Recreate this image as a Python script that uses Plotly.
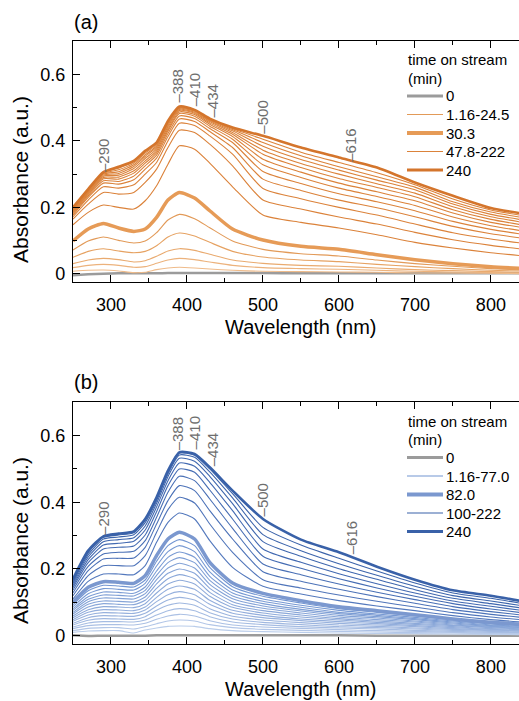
import plotly.graph_objects as go

# ---------------- data ----------------
wl = [250, 270, 290, 310, 330, 345, 360, 375, 390, 410, 430, 460, 500, 550, 600, 650, 700, 750, 800, 840]

# Panel (a)
a_t0 = [-0.004, -0.001, 0.001, 0.002, 0.002, 0.002, 0.002, 0.003, 0.003, 0.003, 0.003, 0.003, 0.003, 0.002, 0.002, 0.002, 0.002, 0.002, 0.002, 0.002]
a_low = [  # 1.16-24.5 min
    [0.072, 0.099, 0.111, 0.101, 0.093, 0.099, 0.124, 0.162, 0.179, 0.166, 0.139, 0.099, 0.074, 0.061, 0.054, 0.042, 0.031, 0.023, 0.016, 0.012],
    [0.050, 0.068, 0.076, 0.069, 0.064, 0.068, 0.085, 0.111, 0.123, 0.114, 0.095, 0.068, 0.051, 0.042, 0.037, 0.029, 0.022, 0.016, 0.011, 0.009],
    [0.031, 0.042, 0.047, 0.043, 0.036, 0.040, 0.053, 0.069, 0.076, 0.071, 0.059, 0.042, 0.032, 0.026, 0.023, 0.018, 0.013, 0.010, 0.007, 0.005],
    [0.019, 0.026, 0.029, 0.026, 0.020, 0.022, 0.032, 0.042, 0.047, 0.043, 0.036, 0.026, 0.019, 0.016, 0.014, 0.011, 0.008, 0.006, 0.004, 0.003],
    [0.008, 0.011, 0.012, 0.009, 0.004, 0.005, 0.013, 0.018, 0.020, 0.018, 0.015, 0.011, 0.008, 0.007, 0.006, 0.005, 0.003, 0.003, 0.002, 0.001],
]
a_t30 = [0.099, 0.135, 0.152, 0.138, 0.128, 0.135, 0.170, 0.222, 0.245, 0.228, 0.190, 0.135, 0.102, 0.083, 0.074, 0.058, 0.043, 0.031, 0.022, 0.017]
a_high = [  # 47.8-222 min
    [0.148, 0.185, 0.207, 0.200, 0.195, 0.220, 0.265, 0.330, 0.385, 0.375, 0.333, 0.262, 0.177, 0.155, 0.138, 0.118, 0.095, 0.078, 0.064, 0.055],
    [0.165, 0.210, 0.245, 0.240, 0.245, 0.275, 0.315, 0.380, 0.432, 0.425, 0.390, 0.325, 0.222, 0.195, 0.171, 0.150, 0.125, 0.103, 0.086, 0.075],
    [0.172, 0.222, 0.262, 0.258, 0.268, 0.300, 0.335, 0.400, 0.453, 0.446, 0.415, 0.360, 0.257, 0.226, 0.200, 0.177, 0.150, 0.124, 0.105, 0.093],
    [0.177, 0.230, 0.273, 0.270, 0.283, 0.315, 0.348, 0.413, 0.466, 0.458, 0.428, 0.380, 0.285, 0.251, 0.222, 0.199, 0.172, 0.143, 0.121, 0.108],
    [0.181, 0.235, 0.280, 0.278, 0.294, 0.325, 0.357, 0.422, 0.475, 0.467, 0.437, 0.395, 0.308, 0.272, 0.241, 0.217, 0.190, 0.158, 0.134, 0.120],
    [0.184, 0.239, 0.286, 0.285, 0.303, 0.333, 0.364, 0.430, 0.482, 0.474, 0.444, 0.405, 0.328, 0.290, 0.258, 0.233, 0.206, 0.171, 0.145, 0.130],
    [0.187, 0.242, 0.290, 0.291, 0.310, 0.340, 0.370, 0.436, 0.487, 0.479, 0.450, 0.413, 0.345, 0.306, 0.273, 0.247, 0.220, 0.183, 0.155, 0.140],
    [0.190, 0.245, 0.294, 0.297, 0.317, 0.347, 0.376, 0.442, 0.491, 0.483, 0.454, 0.420, 0.360, 0.320, 0.287, 0.260, 0.232, 0.193, 0.164, 0.148],
    [0.192, 0.247, 0.297, 0.302, 0.323, 0.353, 0.381, 0.447, 0.494, 0.486, 0.458, 0.425, 0.372, 0.332, 0.300, 0.271, 0.243, 0.202, 0.172, 0.156],
    [0.194, 0.250, 0.300, 0.307, 0.328, 0.358, 0.385, 0.451, 0.497, 0.489, 0.461, 0.430, 0.384, 0.344, 0.312, 0.282, 0.253, 0.210, 0.179, 0.163],
    [0.196, 0.252, 0.302, 0.313, 0.333, 0.363, 0.389, 0.455, 0.499, 0.491, 0.463, 0.434, 0.395, 0.355, 0.322, 0.292, 0.261, 0.217, 0.186, 0.170],
    [0.198, 0.254, 0.304, 0.318, 0.337, 0.367, 0.392, 0.458, 0.501, 0.492, 0.465, 0.437, 0.405, 0.366, 0.335, 0.304, 0.268, 0.225, 0.192, 0.176],
]
a_t240 = [0.200, 0.255, 0.306, 0.322, 0.340, 0.370, 0.395, 0.460, 0.503, 0.493, 0.467, 0.440, 0.415, 0.380, 0.350, 0.320, 0.275, 0.235, 0.198, 0.182]

# Panel (b)
b_t0 = [0.001, -0.001, 0.000, 0.000, 0.000, 0.000, 0.001, 0.001, 0.001, 0.001, 0.001, 0.001, 0.001, 0.001, 0.001, 0.000, 0.000, 0.000, 0.000, 0.000]
b_low = [  # 1.16-77.0 min
    [0.093, 0.135, 0.151, 0.149, 0.146, 0.167, 0.223, 0.270, 0.288, 0.270, 0.205, 0.147, 0.118, 0.098, 0.081, 0.070, 0.059, 0.047, 0.037, 0.032],
    [0.087, 0.126, 0.141, 0.139, 0.137, 0.157, 0.209, 0.252, 0.270, 0.252, 0.191, 0.137, 0.110, 0.091, 0.076, 0.065, 0.055, 0.044, 0.035, 0.030],
    [0.081, 0.117, 0.131, 0.130, 0.127, 0.146, 0.194, 0.235, 0.251, 0.235, 0.178, 0.128, 0.103, 0.085, 0.070, 0.061, 0.051, 0.041, 0.032, 0.028],
    [0.076, 0.109, 0.122, 0.121, 0.119, 0.136, 0.181, 0.219, 0.234, 0.219, 0.166, 0.119, 0.096, 0.079, 0.066, 0.057, 0.048, 0.038, 0.030, 0.026],
    [0.070, 0.102, 0.113, 0.112, 0.110, 0.126, 0.168, 0.203, 0.217, 0.203, 0.154, 0.111, 0.089, 0.074, 0.061, 0.053, 0.044, 0.035, 0.028, 0.024],
    [0.065, 0.094, 0.104, 0.103, 0.101, 0.116, 0.155, 0.187, 0.200, 0.187, 0.142, 0.102, 0.082, 0.068, 0.056, 0.048, 0.041, 0.032, 0.026, 0.022],
    [0.059, 0.086, 0.096, 0.094, 0.093, 0.106, 0.142, 0.171, 0.183, 0.171, 0.130, 0.093, 0.075, 0.062, 0.051, 0.044, 0.037, 0.030, 0.024, 0.020],
    [0.054, 0.078, 0.087, 0.086, 0.084, 0.096, 0.128, 0.155, 0.166, 0.155, 0.118, 0.085, 0.068, 0.056, 0.047, 0.040, 0.034, 0.027, 0.021, 0.018],
    [0.048, 0.070, 0.078, 0.077, 0.075, 0.086, 0.115, 0.139, 0.149, 0.139, 0.106, 0.076, 0.061, 0.050, 0.042, 0.036, 0.030, 0.024, 0.019, 0.016],
    [0.043, 0.062, 0.069, 0.068, 0.067, 0.077, 0.102, 0.123, 0.132, 0.123, 0.094, 0.067, 0.054, 0.045, 0.037, 0.032, 0.027, 0.021, 0.017, 0.014],
    [0.037, 0.054, 0.060, 0.059, 0.058, 0.067, 0.089, 0.107, 0.115, 0.107, 0.081, 0.058, 0.047, 0.039, 0.032, 0.028, 0.023, 0.019, 0.015, 0.013],
    [0.032, 0.046, 0.051, 0.050, 0.049, 0.057, 0.076, 0.091, 0.098, 0.091, 0.069, 0.050, 0.040, 0.033, 0.027, 0.024, 0.020, 0.016, 0.013, 0.011],
    [0.026, 0.038, 0.042, 0.042, 0.041, 0.047, 0.062, 0.075, 0.081, 0.075, 0.057, 0.041, 0.033, 0.027, 0.023, 0.020, 0.016, 0.013, 0.010, 0.009],
    [0.021, 0.030, 0.033, 0.033, 0.032, 0.037, 0.049, 0.059, 0.064, 0.059, 0.045, 0.032, 0.026, 0.022, 0.018, 0.015, 0.013, 0.010, 0.008, 0.007],
    [0.015, 0.022, 0.024, 0.024, 0.020, 0.027, 0.036, 0.044, 0.047, 0.044, 0.033, 0.024, 0.019, 0.016, 0.013, 0.011, 0.009, 0.008, 0.006, 0.005],
    [0.010, 0.014, 0.015, 0.015, 0.008, 0.017, 0.023, 0.028, 0.029, 0.028, 0.021, 0.015, 0.012, 0.010, 0.008, 0.007, 0.006, 0.005, 0.004, 0.003],
]
b_t82 = [0.100, 0.145, 0.162, 0.160, 0.157, 0.180, 0.240, 0.290, 0.310, 0.290, 0.220, 0.158, 0.127, 0.105, 0.087, 0.075, 0.063, 0.050, 0.040, 0.034]
b_high = [  # 100-222 min
    [0.110, 0.163, 0.185, 0.185, 0.183, 0.210, 0.280, 0.340, 0.368, 0.350, 0.285, 0.205, 0.148, 0.125, 0.105, 0.089, 0.075, 0.060, 0.048, 0.041],
    [0.120, 0.180, 0.210, 0.210, 0.210, 0.240, 0.310, 0.378, 0.415, 0.398, 0.335, 0.250, 0.168, 0.143, 0.122, 0.103, 0.086, 0.069, 0.056, 0.048],
    [0.129, 0.195, 0.230, 0.232, 0.233, 0.265, 0.335, 0.405, 0.450, 0.435, 0.375, 0.290, 0.192, 0.163, 0.139, 0.117, 0.097, 0.078, 0.064, 0.055],
    [0.137, 0.208, 0.245, 0.250, 0.253, 0.285, 0.355, 0.430, 0.478, 0.465, 0.410, 0.322, 0.215, 0.183, 0.155, 0.130, 0.108, 0.087, 0.072, 0.062],
    [0.144, 0.219, 0.260, 0.265, 0.269, 0.302, 0.372, 0.450, 0.500, 0.490, 0.437, 0.350, 0.238, 0.202, 0.171, 0.143, 0.118, 0.096, 0.080, 0.069],
    [0.150, 0.228, 0.272, 0.277, 0.283, 0.317, 0.386, 0.465, 0.518, 0.508, 0.460, 0.375, 0.260, 0.220, 0.186, 0.156, 0.128, 0.104, 0.088, 0.076],
    [0.156, 0.236, 0.282, 0.288, 0.294, 0.329, 0.397, 0.477, 0.532, 0.523, 0.478, 0.396, 0.282, 0.238, 0.201, 0.169, 0.138, 0.112, 0.096, 0.083],
    [0.161, 0.243, 0.290, 0.296, 0.303, 0.339, 0.405, 0.485, 0.542, 0.535, 0.491, 0.413, 0.303, 0.255, 0.216, 0.181, 0.148, 0.120, 0.104, 0.090],
    [0.166, 0.249, 0.295, 0.302, 0.309, 0.346, 0.411, 0.491, 0.548, 0.541, 0.500, 0.426, 0.325, 0.272, 0.232, 0.194, 0.158, 0.128, 0.112, 0.097],
]
b_t240 = [0.170, 0.255, 0.298, 0.306, 0.313, 0.350, 0.415, 0.495, 0.550, 0.545, 0.505, 0.435, 0.350, 0.288, 0.250, 0.207, 0.168, 0.136, 0.120, 0.104]

# peak labels (wavelength, y position of label foot)
a_peaks = [(290, 0.303), (388, 0.513), (410, 0.501), (434, 0.468), (500, 0.420), (616, 0.333)]
b_peaks = [(290, 0.299), (388, 0.554), (410, 0.556), (434, 0.506), (500, 0.356), (616, 0.240)]

a_names = ["0", "1.16-24.5", "30.3", "47.8-222", "240"]
b_names = ["0", "1.16-77.0", "82.0", "100-222", "240"]
legend_title = ["time on stream", "(min)"]
x_title = "Wavelength (nm)"
y_title = "Absorbance (a.u.)"

# ---------------- styles ----------------
FONT = "Liberation Sans, Arial, sans-serif"
GRAY = "#9b9b9b"
a_low_cols = ["#e29a58", "#e6a262", "#e9aa6f", "#ecb27c", "#efbb8a"]
a_mid_col = "#e69b57"
a_high_col = "#db823a"
a_top_col = "#d4752c"
b_low_cols = ['#7396d2', '#7799d3', '#7b9cd4', '#7f9fd5', '#83a2d6', '#87a5d8', '#8ba8d9', '#8fabda',
              '#93aedc', '#97b1dd', '#9bb4de', '#a0b8e0', '#a5bce2', '#abc0e4', '#b2c6e7', '#bacdea']
b_mid_col = "#7b98cf"
b_high_cols = ["#5479bd", "#5075ba", "#4c72b8", "#486fb5", "#456cb3", "#4269b1", "#3f67ae", "#3d65ac", "#3b63aa"]
b_top_col = "#3961a8"

W, H = 519, 701
fig = go.Figure()


def add(y, color, width, xa, ya, name):
    fig.add_trace(go.Scatter(
        x=wl, y=y, mode="lines", line=dict(color=color, width=width, shape="spline", smoothing=0.6),
        xaxis=xa, yaxis=ya, name=name, showlegend=False, hoverinfo="skip"))


# panel (a)
add(a_t0, GRAY, 2.5, "x", "y", a_names[0])
for i, y in enumerate(a_low):
    add(y, a_low_cols[i], 1.1, "x", "y", a_names[1])
add(a_t30, a_mid_col, 3.5, "x", "y", a_names[2])
for i, y in enumerate(a_high):
    add(y, a_high_col, 1.1, "x", "y", a_names[3])
add(a_t240, a_top_col, 2.6, "x", "y", a_names[4])

# panel (b)
add(b_t0, GRAY, 2.5, "x2", "y2", b_names[0])
for i, y in enumerate(b_low):
    add(y, b_low_cols[i], 1.1, "x2", "y2", b_names[1])
add(b_t82, b_mid_col, 3.5, "x2", "y2", b_names[2])
for i, y in enumerate(b_high):
    add(y, b_high_cols[i], 1.1, "x2", "y2", b_names[3])
add(b_t240, b_top_col, 2.6, "x2", "y2", b_names[4])

xdom = [73 / W, 1.0]
ydom_a = [1 - 282.3 / H, 1 - 41 / H]
ydom_b = [1 - 644 / H, 1 - 402.3 / H]

xcommon = dict(range=[250, 837], tickvals=[300, 400, 500, 600, 700, 800], ticks="inside", ticklen=7,
               tickwidth=1.3, tickcolor="black", showline=True, linecolor="black", linewidth=1.3,
               mirror="ticks", showgrid=False, zeroline=False,
               minor=dict(dtick=50, tick0=250, ticks="inside", ticklen=4, tickwidth=1.3, tickcolor="black"),
               tickfont=dict(size=18, color="black", family=FONT), ticklabelstandoff=6,
               automargin=False)
ycommon = dict(range=[-0.025, 0.70], tickvals=[0, 0.2, 0.4, 0.6], ticktext=["0", "0.2", "0.4", "0.6"],
               ticks="inside", ticklen=7, tickwidth=1.3, tickcolor="black", showline=True, linecolor="black",
               linewidth=1.3, mirror=False, showgrid=False, zeroline=False,
               minor=dict(tickvals=[0.1, 0.3, 0.5], ticks="inside", ticklen=4, tickwidth=1.3, tickcolor="black"),
               tickfont=dict(size=18, color="black", family=FONT), ticklabelstandoff=3,
               automargin=False)

annotations = []
shapes = []
for (lam, yv) in a_peaks:
    annotations.append(dict(x=lam, y=yv, xref="x", yref="y", text="\u2013" + str(lam), textangle=-90,
                            showarrow=False, xanchor="center", yanchor="bottom", borderpad=0,
                            font=dict(size=15, color="#6e6e6e", family=FONT)))
for (lam, yv) in b_peaks:
    annotations.append(dict(x=lam, y=yv, xref="x2", yref="y2", text="\u2013" + str(lam), textangle=-90,
                            showarrow=False, xanchor="center", yanchor="bottom", borderpad=0,
                            font=dict(size=15, color="#6e6e6e", family=FONT)))
for lbl, ypx in (("(a)", 22), ("(b)", 382)):
    annotations.append(dict(x=72 / W, y=1 - ypx / H, xref="paper", yref="paper", text=lbl, showarrow=False,
                            xanchor="left", yanchor="middle", font=dict(size=20, color="black", family=FONT)))
# axis titles
for ypx in (326.5, 688.5):
    annotations.append(dict(x=301 / W, y=1 - ypx / H, xref="paper", yref="paper", text=x_title,
                            showarrow=False, xanchor="center", yanchor="middle", borderpad=0,
                            font=dict(size=20, color="black", family=FONT)))
for ypx in (180, 541):
    annotations.append(dict(x=20 / W, y=1 - ypx / H, xref="paper", yref="paper", text=y_title,
                            showarrow=False, xanchor="center", yanchor="middle", textangle=-90,
                            font=dict(size=21, color="black", family=FONT)))


# legends (drawn as layout decorations in pixel positions)
def legend_block(top_px, names, colors, widths):
    for j, t in enumerate(legend_title):
        annotations.append(dict(x=406 / W, y=1 - (top_px + 18.3 * j) / H, xref="paper", yref="paper",
                                text=t, showarrow=False, xanchor="left", yanchor="middle",
                                font=dict(size=15, color="black", family=FONT)))
    for k, nm in enumerate(names):
        yc = top_px + 36 + 18.5 * k
        shapes.append(dict(type="line", xref="paper", yref="paper", x0=407 / W, x1=443 / W,
                           y0=1 - yc / H, y1=1 - yc / H, line=dict(color=colors[k], width=widths[k])))
        annotations.append(dict(x=444 / W, y=1 - yc / H, xref="paper", yref="paper", text=nm,
                                showarrow=False, xanchor="left", yanchor="middle",
                                font=dict(size=15, color="black", family=FONT)))


legend_block(60, a_names, [GRAY, a_low_cols[0], a_mid_col, a_high_col, a_top_col], [3, 1.1, 4, 1.1, 3])
legend_block(421.5, b_names, [GRAY, b_low_cols[0], b_mid_col, b_high_cols[-1], b_top_col], [3, 1.1, 4, 1.1, 3])

fig.update_layout(
    width=W, height=H, margin=dict(l=0, r=0, t=0, b=0),
    paper_bgcolor="white", plot_bgcolor="white",
    font=dict(family=FONT, color="black"),
    showlegend=False,
    xaxis=dict(domain=xdom, anchor="y", **xcommon),
    yaxis=dict(domain=ydom_a, anchor="x", **ycommon),
    xaxis2=dict(domain=xdom, anchor="y2", **xcommon),
    yaxis2=dict(domain=ydom_b, anchor="x2", **ycommon),
    annotations=annotations,
    shapes=shapes,
)

fig.write_html("out.html")
